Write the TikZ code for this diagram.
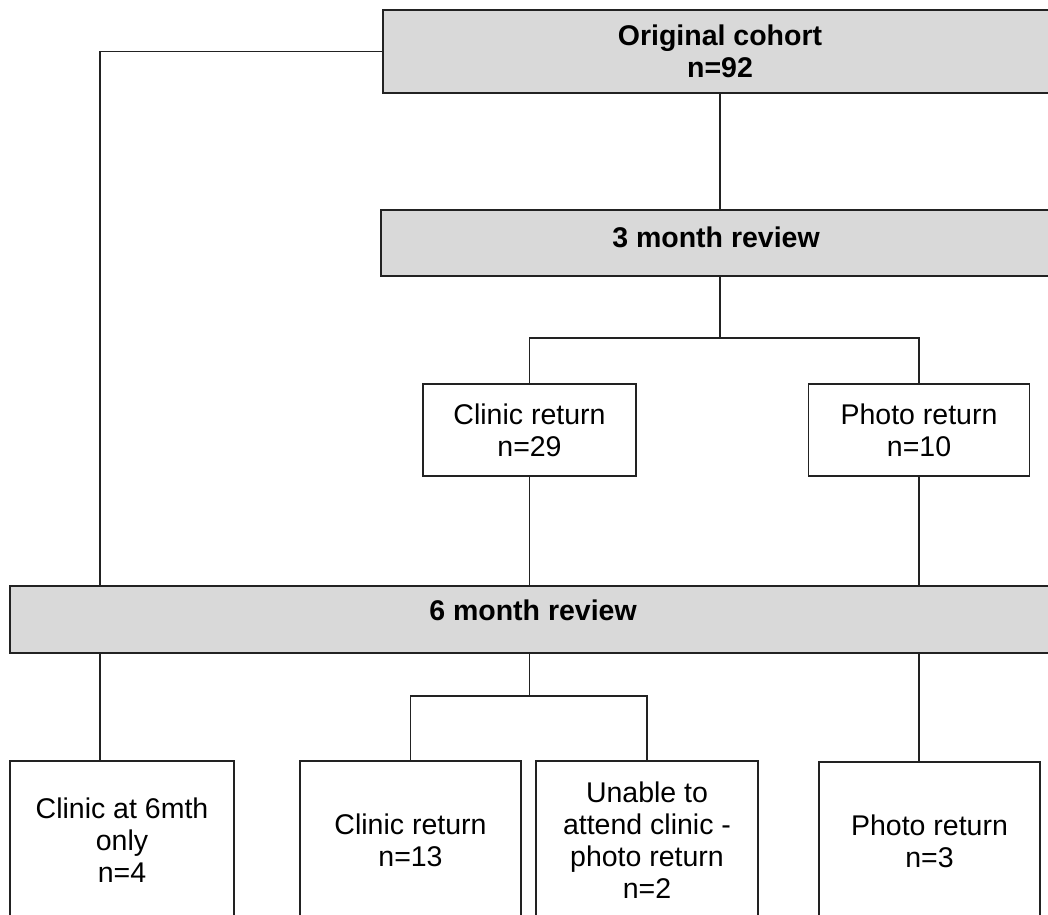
\documentclass[tikz,border=0pt]{standalone}
\usepackage{fontspec}
\setmainfont{Liberation Sans}
\definecolor{boxgrey}{HTML}{D9D9D9}
\definecolor{lineclr}{HTML}{222222}
\begin{document}
\begin{tikzpicture}[x=1pt,y=-1pt,
  every node/.style={inner sep=0pt, outer sep=0pt},
  basebox/.style={draw=lineclr, line width=1.4pt, align=center,
    font=\fontsize{28.5}{32}\selectfont},
  greybox/.style={basebox, fill=boxgrey, font=\fontsize{28.5}{32}\selectfont\bfseries},
  whitebox/.style={basebox, fill=white},
  conn/.style={draw=lineclr, line width=1.4pt}]
\useasboundingbox (0,0) rectangle (1048,914);
\clip (0,0) rectangle (1048,914);
\fill[white] (0,0) rectangle (1048,914);

\node[greybox, minimum width=674pt, minimum height=83pt] (orig) at (720,51.5) {Original cohort\\n=92};
\node[greybox, minimum width=670pt, minimum height=66pt, text height=21pt, text depth=12pt] (rev3) at (716,243) {3 month review};
\node[whitebox, minimum width=213pt, minimum height=92pt] (c29) at (529.5,430) {Clinic return\\n=29};
\node[whitebox, minimum width=221pt, minimum height=92pt] (p10) at (919,430) {Photo return\\n=10};
\node[greybox, minimum width=1046pt, minimum height=67pt, text height=21pt, text depth=19pt] (rev6) at (533,619.5) {6 month review};
\node[whitebox, minimum width=224pt, minimum height=158pt] (b1) at (122,840) {Clinic at 6mth\\only\\n=4};
\node[whitebox, minimum width=221pt, minimum height=158pt] (b2) at (410.5,840) {Clinic return\\n=13};
\node[whitebox, minimum width=222pt, minimum height=158pt] (b3) at (647,840) {Unable to\\attend clinic -\\photo return\\n=2};
\node[whitebox, minimum width=221pt, minimum height=158pt] (b4) at (929.5,841) {Photo return\\n=3};

\coordinate (L) at (100,0);

\draw[conn] (orig.south) -- (orig.south |- rev3.north);
\draw[conn] (orig.south |- rev3.south) -- ++(0,62) coordinate (j1);
\draw[conn] (c29.north) |- (j1) -| (p10.north);
\draw[conn] (c29.south) -- (c29.south |- rev6.north);
\draw[conn] (p10.south) -- (p10.south |- rev6.north);
\draw[conn] (orig.west) -| (L |- rev6.north);
\draw[conn] (L |- rev6.south) -- (L |- b1.north);
\draw[conn] (c29.south |- rev6.south) -- ++(0,43) coordinate (j2);
\draw[conn] (b2.north) |- (j2) -| (b3.north);
\draw[conn] (p10.south |- rev6.south) -- (p10.south |- b4.north);
\end{tikzpicture}
\end{document}
